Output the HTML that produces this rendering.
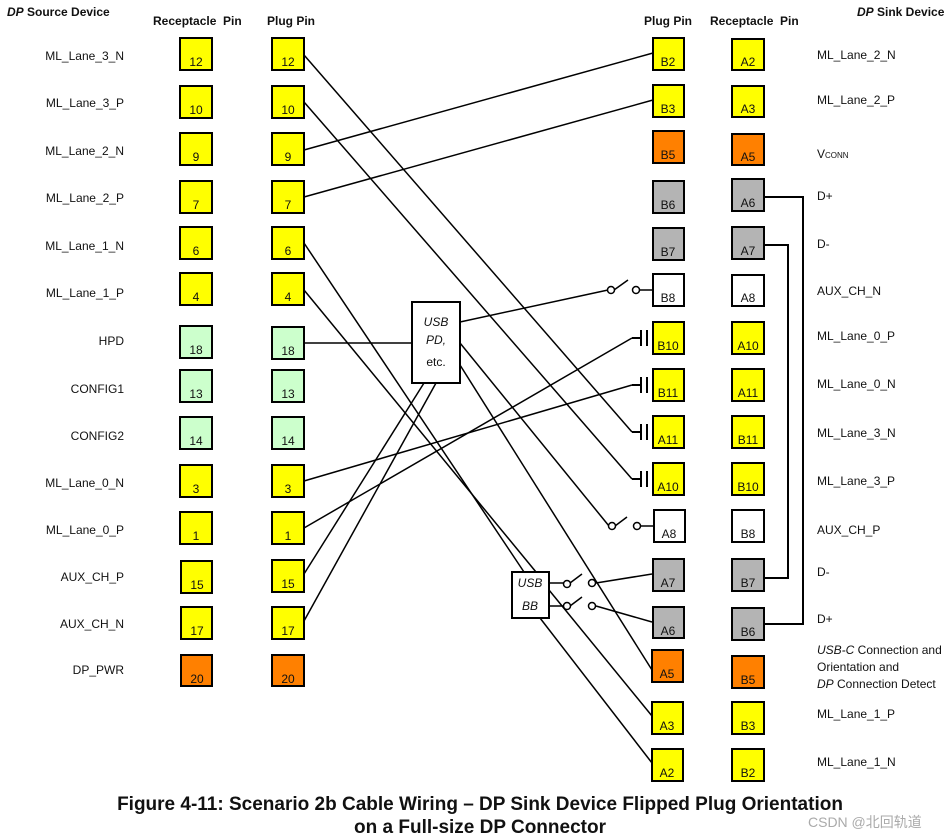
<!DOCTYPE html>
<html><head><meta charset="utf-8"><style>
html,body{margin:0;padding:0;background:#fff}
svg{display:block}
text{font-family:"Liberation Sans",sans-serif;font-size:12px;fill:#111}
.b{font-weight:bold}
</style></head><body>
<svg width="950" height="840" viewBox="0 0 950 840" xmlns="http://www.w3.org/2000/svg">
<g stroke="#000" stroke-width="1.5" fill="none">
<line x1="304" y1="55" x2="632" y2="432"/>
<line x1="304" y1="102" x2="632" y2="479"/>
<line x1="304" y1="150" x2="653" y2="53"/>
<line x1="304" y1="197" x2="653" y2="100"/>
<line x1="304" y1="243" x2="524" y2="572"/>
<line x1="304" y1="290" x2="536" y2="572"/>
<line x1="549" y1="590" x2="652" y2="716"/>
<line x1="540" y1="618" x2="652" y2="763"/>
<line x1="304" y1="343" x2="412" y2="343"/>
<line x1="304" y1="481" x2="632" y2="385"/>
<line x1="304" y1="528" x2="632" y2="338"/>
<line x1="304" y1="574" x2="424" y2="383"/>
<line x1="304" y1="621" x2="436" y2="383"/>
<line x1="460" y1="322" x2="608" y2="290"/>
<line x1="460" y1="343" x2="609" y2="526"/>
<line x1="460" y1="365" x2="652" y2="670"/>
<line x1="614" y1="290" x2="628" y2="280"/>
<line x1="639" y1="290" x2="653" y2="290"/>
<line x1="615" y1="526" x2="627" y2="517"/>
<line x1="640" y1="526" x2="653" y2="526"/>
<line x1="549" y1="583" x2="564" y2="583"/>
<line x1="570" y1="583" x2="582" y2="574"/>
<line x1="596" y1="583" x2="652" y2="574"/>
<line x1="549" y1="606" x2="564" y2="606"/>
<line x1="570" y1="606" x2="582" y2="597"/>
<line x1="596" y1="606" x2="652" y2="622"/>
<polyline points="764,197 803,197 803,624 764,624" stroke-width="2"/>
<polyline points="764,245 788,245 788,578 764,578" stroke-width="2"/>
</g>
<g fill="#fff" stroke="#000" stroke-width="1.5">
<circle cx="611" cy="290" r="3.5"/><circle cx="636" cy="290" r="3.5"/>
<circle cx="612" cy="526" r="3.5"/><circle cx="637" cy="526" r="3.5"/>
<circle cx="567" cy="584" r="3.5"/><circle cx="592" cy="583" r="3.5"/>
<circle cx="567" cy="606" r="3.5"/><circle cx="592" cy="606" r="3.5"/>
</g>
<g stroke="#000" stroke-width="2">
<g transform="translate(0,338)"><line x1="632" y1="0" x2="640" y2="0"/><line x1="641" y1="-8" x2="641" y2="8"/><line x1="647" y1="-8" x2="647" y2="8"/></g>
<g transform="translate(0,385)"><line x1="632" y1="0" x2="640" y2="0"/><line x1="641" y1="-8" x2="641" y2="8"/><line x1="647" y1="-8" x2="647" y2="8"/></g>
<g transform="translate(0,432)"><line x1="632" y1="0" x2="640" y2="0"/><line x1="641" y1="-8" x2="641" y2="8"/><line x1="647" y1="-8" x2="647" y2="8"/></g>
<g transform="translate(0,479)"><line x1="632" y1="0" x2="640" y2="0"/><line x1="641" y1="-8" x2="641" y2="8"/><line x1="647" y1="-8" x2="647" y2="8"/></g>
</g>
<rect x="412" y="302" width="48" height="81" fill="#fff" stroke="#000" stroke-width="2"/>
<text x="436" y="326" text-anchor="middle" font-style="italic">USB</text>
<text x="436" y="344" text-anchor="middle" font-style="italic">PD,</text>
<text x="436" y="366" text-anchor="middle">etc.</text>
<rect x="512" y="572" width="37" height="46" fill="#fff" stroke="#000" stroke-width="2"/>
<text x="530" y="587" text-anchor="middle" font-style="italic">USB</text>
<text x="530" y="610" text-anchor="middle" font-style="italic">BB</text>
<g stroke="#000" stroke-width="2">
<rect x="180" y="38" width="32" height="32" fill="#ffff00"/>
<rect x="180" y="86" width="32" height="32" fill="#ffff00"/>
<rect x="180" y="133" width="32" height="32" fill="#ffff00"/>
<rect x="180" y="181" width="32" height="32" fill="#ffff00"/>
<rect x="180" y="227" width="32" height="32" fill="#ffff00"/>
<rect x="180" y="273" width="32" height="32" fill="#ffff00"/>
<rect x="180" y="326" width="32" height="32" fill="#ccffcc"/>
<rect x="180" y="370" width="32" height="32" fill="#ccffcc"/>
<rect x="180" y="417" width="32" height="32" fill="#ccffcc"/>
<rect x="180" y="465" width="32" height="32" fill="#ffff00"/>
<rect x="180" y="512" width="32" height="32" fill="#ffff00"/>
<rect x="181" y="561" width="31" height="32" fill="#ffff00"/>
<rect x="181" y="607" width="31" height="32" fill="#ffff00"/>
<rect x="181" y="655" width="31" height="31" fill="#ff8000"/>
<rect x="272" y="38" width="32" height="32" fill="#ffff00"/>
<rect x="272" y="86" width="32" height="32" fill="#ffff00"/>
<rect x="272" y="133" width="32" height="32" fill="#ffff00"/>
<rect x="272" y="181" width="32" height="32" fill="#ffff00"/>
<rect x="272" y="227" width="32" height="32" fill="#ffff00"/>
<rect x="272" y="273" width="32" height="32" fill="#ffff00"/>
<rect x="272" y="327" width="32" height="32" fill="#ccffcc"/>
<rect x="272" y="370" width="32" height="32" fill="#ccffcc"/>
<rect x="272" y="417" width="32" height="32" fill="#ccffcc"/>
<rect x="272" y="465" width="32" height="32" fill="#ffff00"/>
<rect x="272" y="512" width="32" height="32" fill="#ffff00"/>
<rect x="272" y="560" width="32" height="32" fill="#ffff00"/>
<rect x="272" y="607" width="32" height="32" fill="#ffff00"/>
<rect x="272" y="655" width="32" height="31" fill="#ff8000"/>
<rect x="653" y="38" width="31" height="32" fill="#ffff00"/>
<rect x="653" y="85" width="31" height="32" fill="#ffff00"/>
<rect x="653" y="131" width="31" height="32" fill="#ff8000"/>
<rect x="653" y="181" width="31" height="32" fill="#b4b4b4"/>
<rect x="653" y="228" width="31" height="32" fill="#b4b4b4"/>
<rect x="653" y="274" width="31" height="32" fill="#fff"/>
<rect x="653" y="322" width="31" height="32" fill="#ffff00"/>
<rect x="653" y="369" width="31" height="32" fill="#ffff00"/>
<rect x="653" y="416" width="31" height="32" fill="#ffff00"/>
<rect x="653" y="463" width="31" height="32" fill="#ffff00"/>
<rect x="654" y="510" width="31" height="32" fill="#fff"/>
<rect x="653" y="559" width="31" height="32" fill="#b4b4b4"/>
<rect x="653" y="607" width="31" height="31" fill="#b4b4b4"/>
<rect x="652" y="650" width="31" height="32" fill="#ff8000"/>
<rect x="652" y="702" width="31" height="32" fill="#ffff00"/>
<rect x="652" y="749" width="31" height="32" fill="#ffff00"/>
<rect x="732" y="39" width="32" height="31" fill="#ffff00"/>
<rect x="732" y="86" width="32" height="31" fill="#ffff00"/>
<rect x="732" y="134" width="32" height="31" fill="#ff8000"/>
<rect x="732" y="179" width="32" height="32" fill="#b4b4b4"/>
<rect x="732" y="227" width="32" height="32" fill="#b4b4b4"/>
<rect x="732" y="275" width="32" height="31" fill="#fff"/>
<rect x="732" y="322" width="32" height="32" fill="#ffff00"/>
<rect x="732" y="369" width="32" height="32" fill="#ffff00"/>
<rect x="732" y="416" width="32" height="32" fill="#ffff00"/>
<rect x="732" y="463" width="32" height="32" fill="#ffff00"/>
<rect x="732" y="510" width="32" height="32" fill="#fff"/>
<rect x="732" y="559" width="32" height="32" fill="#b4b4b4"/>
<rect x="732" y="608" width="32" height="32" fill="#b4b4b4"/>
<rect x="732" y="656" width="32" height="32" fill="#ff8000"/>
<rect x="732" y="702" width="32" height="32" fill="#ffff00"/>
<rect x="732" y="749" width="32" height="32" fill="#ffff00"/>
</g>
<g text-anchor="middle">
<text x="196" y="66">12</text><text x="288" y="66">12</text>
<text x="196" y="114">10</text><text x="288" y="114">10</text>
<text x="196" y="161">9</text><text x="288" y="161">9</text>
<text x="196" y="209">7</text><text x="288" y="209">7</text>
<text x="196" y="255">6</text><text x="288" y="255">6</text>
<text x="196" y="301">4</text><text x="288" y="301">4</text>
<text x="196" y="354">18</text><text x="288" y="355">18</text>
<text x="196" y="398">13</text><text x="288" y="398">13</text>
<text x="196" y="445">14</text><text x="288" y="445">14</text>
<text x="196" y="493">3</text><text x="288" y="493">3</text>
<text x="196" y="540">1</text><text x="288" y="540">1</text>
<text x="197" y="589">15</text><text x="288" y="588">15</text>
<text x="197" y="635">17</text><text x="288" y="635">17</text>
<text x="197" y="683">20</text><text x="288" y="683">20</text>
<text x="668" y="66">B2</text><text x="748" y="66">A2</text>
<text x="668" y="113">B3</text><text x="748" y="113">A3</text>
<text x="668" y="159">B5</text><text x="748" y="161">A5</text>
<text x="668" y="209">B6</text><text x="748" y="207">A6</text>
<text x="668" y="256">B7</text><text x="748" y="255">A7</text>
<text x="668" y="302">B8</text><text x="748" y="302">A8</text>
<text x="668" y="350">B10</text><text x="748" y="350">A10</text>
<text x="668" y="397">B11</text><text x="748" y="397">A11</text>
<text x="668" y="444">A11</text><text x="748" y="444">B11</text>
<text x="668" y="491">A10</text><text x="748" y="491">B10</text>
<text x="669" y="538">A8</text><text x="748" y="538">B8</text>
<text x="668" y="587">A7</text><text x="748" y="587">B7</text>
<text x="668" y="635">A6</text><text x="748" y="636">B6</text>
<text x="667" y="678">A5</text><text x="748" y="684">B5</text>
<text x="667" y="730">A3</text><text x="748" y="730">B3</text>
<text x="667" y="777">A2</text><text x="748" y="777">B2</text>
</g>
<text x="7" y="16" class="b"><tspan font-style="italic">DP</tspan> Source Device</text>
<text x="153" y="25" class="b">Receptacle&#160;&#160;Pin</text>
<text x="267" y="25" class="b">Plug Pin</text>
<text x="644" y="25" class="b">Plug Pin</text>
<text x="710" y="25" class="b">Receptacle&#160;&#160;Pin</text>
<text x="857" y="16" class="b"><tspan font-style="italic">DP</tspan> Sink Device</text>
<g text-anchor="end">
<text x="124" y="60">ML_Lane_3_N</text>
<text x="124" y="107">ML_Lane_3_P</text>
<text x="124" y="155">ML_Lane_2_N</text>
<text x="124" y="202">ML_Lane_2_P</text>
<text x="124" y="250">ML_Lane_1_N</text>
<text x="124" y="297">ML_Lane_1_P</text>
<text x="124" y="345">HPD</text>
<text x="124" y="393">CONFIG1</text>
<text x="124" y="440">CONFIG2</text>
<text x="124" y="487">ML_Lane_0_N</text>
<text x="124" y="534">ML_Lane_0_P</text>
<text x="124" y="581">AUX_CH_P</text>
<text x="124" y="628">AUX_CH_N</text>
<text x="124" y="674">DP_PWR</text>
</g>
<text x="817" y="59">ML_Lane_2_N</text>
<text x="817" y="104">ML_Lane_2_P</text>
<text x="817" y="158">V<tspan font-size="8">CONN</tspan></text>
<text x="817" y="200">D+</text>
<text x="817" y="248">D-</text>
<text x="817" y="295">AUX_CH_N</text>
<text x="817" y="340">ML_Lane_0_P</text>
<text x="817" y="388">ML_Lane_0_N</text>
<text x="817" y="437">ML_Lane_3_N</text>
<text x="817" y="485">ML_Lane_3_P</text>
<text x="817" y="534">AUX_CH_P</text>
<text x="817" y="576">D-</text>
<text x="817" y="623">D+</text>
<text x="817" y="654"><tspan font-style="italic">USB-C</tspan> Connection and</text>
<text x="817" y="671">Orientation and</text>
<text x="817" y="688"><tspan font-style="italic">DP</tspan> Connection Detect</text>
<text x="817" y="718">ML_Lane_1_P</text>
<text x="817" y="766">ML_Lane_1_N</text>
<text x="480" y="810" text-anchor="middle" class="b" style="font-size:19px">Figure 4-11: Scenario 2b Cable Wiring – DP Sink Device Flipped Plug Orientation</text>
<text x="480" y="833" text-anchor="middle" class="b" style="font-size:19px">on a Full-size DP Connector</text>
<text x="808" y="827" style="font-size:14px;fill:#aaa;font-family:'Liberation Sans','Noto Sans CJK SC',sans-serif">CSDN @北回轨道</text>
</svg>
</body></html>
